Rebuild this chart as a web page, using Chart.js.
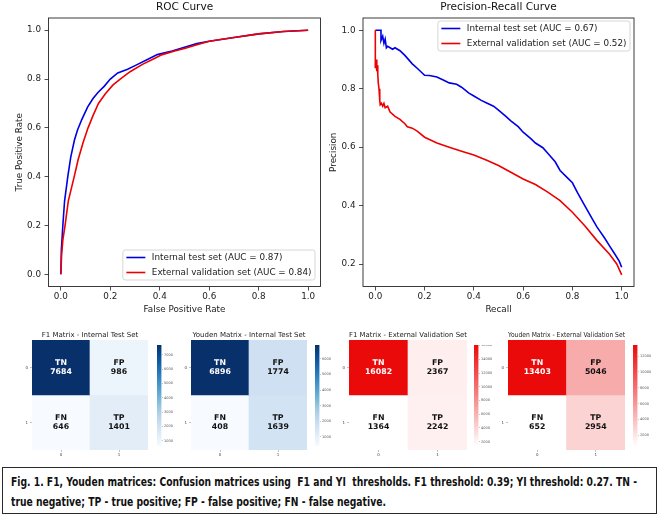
<!DOCTYPE html>
<html>
<head>
<meta charset="utf-8">
<script src="https://cdn.jsdelivr.net/npm/chart.js@4.4.0/dist/chart.umd.min.js"></script>
<style>
  html, body { margin: 0; padding: 0; background: #fff; }
  #page { position: relative; width: 662px; height: 517px; overflow: hidden; background: #fff; }
  canvas { position: absolute; }
  #caption {
    position: absolute; left: 2px; top: 467px; width: 653px; height: 45px;
    border: 1.5px solid #2a2a2a;
    font-family: 'Liberation Sans Narrow', 'DejaVu Sans Condensed', sans-serif;
    font-weight: bold; font-size: 13px; color: #111;
  }
  .cap-line { position: absolute; left: 8px; white-space: pre; transform-origin: 0 0; }
</style>
</head>
<body>
<div id="page">
  <canvas id="roc" width="331" height="320" style="left:0;top:0"></canvas>
  <canvas id="pr" width="340" height="320" style="left:322px;top:0"></canvas>
  <div id="caption">
    <div class="cap-line" id="cap1" style="top:6px">Fig. 1. F1, Youden matrices: Confusion matrices using  F1 and YI  thresholds. F1 threshold: 0.39; YI threshold: 0.27. TN -</div>
    <div class="cap-line" id="cap2" style="top:25.5px">true negative; TP - true positive; FP - false positive; FN - false negative.</div>
  </div>
</div>
<script>
// ROC curve points
const rocFprInternal = [0, 0.002, 0.008, 0.015, 0.028, 0.04, 0.055, 0.067, 0.085, 0.108, 0.13, 0.15, 0.175, 0.2, 0.23, 0.27, 0.3, 0.35, 0.39, 0.45, 0.5, 0.55, 0.6, 0.7, 0.8, 0.9, 1.0];
const rocTprInternal = [0, 0.1, 0.2, 0.3, 0.4, 0.48, 0.55, 0.59, 0.635, 0.685, 0.72, 0.745, 0.77, 0.8, 0.825, 0.84, 0.855, 0.88, 0.9, 0.915, 0.93, 0.945, 0.955, 0.97, 0.985, 0.995, 1.0];
const rocFprExternal = [0, 0.003, 0.008, 0.017, 0.03, 0.054, 0.07, 0.09, 0.11, 0.13, 0.152, 0.18, 0.21, 0.24, 0.28, 0.33, 0.37, 0.41, 0.46, 0.5, 0.55, 0.6, 0.7, 0.8, 0.9, 1.0];
const rocTprExternal = [0, 0.08, 0.14, 0.2, 0.3, 0.4, 0.47, 0.54, 0.6, 0.65, 0.7, 0.74, 0.775, 0.8, 0.83, 0.86, 0.88, 0.9, 0.915, 0.925, 0.94, 0.955, 0.97, 0.985, 0.995, 1.0];

// Precision-recall points
const prRecallInternal = [0, 0.023, 0.023, 0.03, 0.035, 0.04, 0.045, 0.05, 0.06, 0.07, 0.08, 0.1, 0.12, 0.15, 0.17, 0.2, 0.22, 0.25, 0.28, 0.3, 0.33, 0.35, 0.38, 0.4, 0.43, 0.45, 0.48, 0.5, 0.53, 0.55, 0.58, 0.6, 0.63, 0.65, 0.68, 0.7, 0.73, 0.75, 0.78, 0.8, 0.82, 0.85, 0.88, 0.9, 0.93, 0.95, 0.97, 0.99, 1.0];
const prPrecisionInternal = [1.0, 1.0, 0.965, 0.98, 0.955, 0.97, 0.94, 0.945, 0.94, 0.935, 0.94, 0.93, 0.914, 0.885, 0.87, 0.846, 0.845, 0.84, 0.828, 0.82, 0.815, 0.805, 0.785, 0.775, 0.76, 0.752, 0.74, 0.727, 0.705, 0.69, 0.67, 0.651, 0.63, 0.614, 0.598, 0.579, 0.55, 0.52, 0.495, 0.478, 0.445, 0.4, 0.355, 0.326, 0.29, 0.263, 0.237, 0.21, 0.189];
const prRecallExternal = [0, 0, 0.003, 0.006, 0.008, 0.01, 0.012, 0.015, 0.018, 0.02, 0.025, 0.03, 0.035, 0.04, 0.05, 0.06, 0.08, 0.1, 0.12, 0.13, 0.15, 0.17, 0.2, 0.25, 0.3, 0.35, 0.4, 0.45, 0.5, 0.55, 0.6, 0.65, 0.7, 0.75, 0.8, 0.85, 0.9, 0.95, 0.98, 1.0];
const prPrecisionExternal = [1.0, 0.87, 0.9, 0.86, 0.88, 0.85, 0.82, 0.8, 0.76, 0.745, 0.75, 0.74, 0.75, 0.735, 0.74, 0.72, 0.705, 0.695, 0.68, 0.67, 0.665, 0.655, 0.634, 0.614, 0.6, 0.586, 0.573, 0.556, 0.537, 0.514, 0.491, 0.472, 0.446, 0.417, 0.377, 0.331, 0.28, 0.234, 0.2, 0.163];

const rocTicks = [0, 0.2, 0.4, 0.6, 0.8, 1.0];
const prYTicks = [0.2, 0.4, 0.6, 0.8, 1.0];

// Confusion matrices: rows = true label, cols = predicted label
const matrixLabels = ['0', '1'];
const cellNames = [['TN', 'FP'], ['FN', 'TP']];
const f1Internal = [[7684, 986], [646, 1401]];
const youdenInternal = [[6896, 1774], [408, 1639]];
const f1External = [[16082, 2367], [1364, 2242]];
const youdenExternal = [[13403, 5046], [652, 2954]];
const cbTicksF1Int = [1000, 2000, 3000, 4000, 5000, 6000, 7000];
const cbTicksYdInt = [1000, 2000, 3000, 4000, 5000, 6000];
const cbTicksF1Ext = [2000, 4000, 6000, 8000, 10000, 12000, 14000, 16000];
const cbTicksYdExt = [2000, 4000, 6000, 8000, 10000, 12000];

const FONT = "'DejaVu Sans', sans-serif";
const blues = [[247,251,255],[222,235,247],[198,219,239],[158,202,225],[107,174,214],[66,146,198],[33,113,181],[8,81,156],[8,48,107]];
const reds = [[255,255,255],[235,10,10]];

function cmapColor(stops, t) {
    t = Math.min(1, Math.max(0, t));
    const s = t * (stops.length - 1);
    const i = Math.min(Math.floor(s), stops.length - 2);
    const f = s - i;
    const c = stops[i].map((v, k) => Math.round(v + (stops[i + 1][k] - v) * f));
    return `rgb(${c[0]},${c[1]},${c[2]})`;
}

// box round the plot area (matplotlib spines)
const frame = {
    id: 'frame',
    afterDatasetsDraw(chart) {
        const a = chart.chartArea, c = chart.ctx;
        c.save();
        c.strokeStyle = '#262626';
        c.lineWidth = 0.9;
        c.strokeRect(a.left, a.top, a.right - a.left, a.bottom - a.top);
        c.restore();
    }
};

// matplotlib-like legend box inside the axes
const boxLegend = {
    id: 'boxLegend',
    afterDraw(chart, args, opts) {
        const a = chart.chartArea, c = chart.ctx;
        const sets = chart.data.datasets;
        c.save();
        c.font = '8.8px ' + FONT;
        const textW = Math.max(...sets.map(d => c.measureText(d.label).width));
        const pad = 3.5, sample = 19, gap = 6.5, rowH = 15, padY = 7.5;
        const w = pad + sample + gap + textW + pad;
        const h = padY * 2 + rowH * (sets.length - 1);
        const x = a.right - opts.right - w;
        const y = opts.corner === 'lower' ? a.bottom - opts.offset - h : a.top + opts.offset;
        c.beginPath();
        c.roundRect(x, y, w, h, 2.5);
        c.fillStyle = 'rgba(255,255,255,0.85)';
        c.fill();
        c.strokeStyle = '#cccccc';
        c.lineWidth = 0.8;
        c.stroke();
        sets.forEach((d, i) => {
            const cy = y + padY + i * rowH;
            c.beginPath();
            c.strokeStyle = d.borderColor;
            c.lineWidth = d.borderWidth;
            c.moveTo(x + pad, cy);
            c.lineTo(x + pad + sample, cy);
            c.stroke();
            c.fillStyle = '#1a1a1a';
            c.textBaseline = 'middle';
            c.fillText(d.label, x + pad + sample + gap, cy);
        });
        c.restore();
    }
};

function axis(o) {
    return {
        type: 'linear', min: o.min, max: o.max,
        afterBuildTicks: s => { s.ticks = o.ticks.map(v => ({ value: v })); },
        afterFit: s => {
            if (o.width) s.width = o.width;
            if (o.height) s.height = o.height;
            s.paddingTop = s.paddingBottom = s.paddingLeft = s.paddingRight = 0;
        },
        grid: { drawOnChartArea: false, color: '#222', lineWidth: 0.8, tickLength: 4 },
        border: { display: false },
        ticks: { color: '#222', padding: o.pad, maxRotation: 0, font: { family: FONT, size: 8.8 }, callback: v => v.toFixed(1) },
        title: { display: true, text: o.title, color: '#222', font: { family: FONT, size: 8.8 }, padding: o.titlePad }
    };
}

function curveSet(label, xs, ys, color, order) {
    return {
        label: label,
        data: xs.map((x, i) => ({ x: x, y: ys[i] })),
        borderColor: color, borderWidth: 1.6,
        pointRadius: 0, tension: 0, fill: false, order: order
    };
}

function curveOptions(title, padRight, xAxis, yAxis, legendOpts) {
    return {
        responsive: false, animation: false, events: [],
        layout: { padding: { left: 0, right: padRight, top: 0, bottom: 0 } },
        plugins: {
            legend: { display: false },
            tooltip: { enabled: false },
            title: { display: true, text: title, fullSize: false, color: '#111', font: { family: FONT, size: 10.5, weight: 'normal' }, padding: { top: 1, bottom: 4.4 } },
            boxLegend: legendOpts
        },
        scales: { x: xAxis, y: yAxis }
    };
}

new Chart(document.getElementById('roc'), {
    type: 'line',
    data: {
        datasets: [
            curveSet('Internal test set (AUC = 0.87)', rocFprInternal, rocTprInternal, '#0000e6', 1),
            curveSet('External validation set (AUC = 0.84)', rocFprExternal, rocTprExternal, '#ee0000', 0)
        ]
    },
    options: curveOptions('ROC Curve', 10.5,
        axis({ min: -0.05, max: 1.05, ticks: rocTicks, height: 33.5, pad: 1, title: 'False Positive Rate', titlePad: { top: 0, bottom: 4.7 } }),
        axis({ min: -0.05, max: 1.05, ticks: rocTicks, width: 48.5, pad: 3.5, title: 'True Positive Rate', titlePad: { top: 14.5, bottom: 0 } }),
        { corner: 'lower', right: 5.5, offset: 6.5 }),
    plugins: [frame, boxLegend]
});

new Chart(document.getElementById('pr'), {
    type: 'line',
    data: {
        datasets: [
            curveSet('Internal test set (AUC = 0.67)', prRecallInternal, prPrecisionInternal, '#0000e6', 1),
            curveSet('External validation set (AUC = 0.52)', prRecallExternal, prPrecisionExternal, '#ee0000', 0)
        ]
    },
    options: curveOptions('Precision-Recall Curve', 28,
        axis({ min: -0.05, max: 1.05, ticks: rocTicks, height: 33.5, pad: 1, title: 'Recall', titlePad: { top: 0, bottom: 4.7 } }),
        axis({ min: 0.123, max: 1.042, ticks: prYTicks, width: 41, pad: 3.5, title: 'Precision', titlePad: { top: 6.7, bottom: 0 } }),
        { corner: 'upper', right: 4, offset: 3 }),
    plugins: [frame, boxLegend]
});

// ---- confusion matrices ----
function addCanvas(left, top, w, h) {
    const cv = document.createElement('canvas');
    cv.width = w; cv.height = h;
    cv.style.left = left + 'px';
    cv.style.top = top + 'px';
    document.getElementById('page').appendChild(cv);
    return cv;
}

const cellText = {
    id: 'cellText',
    afterDatasetsDraw(chart) {
        const c = chart.ctx;
        c.save();
        c.textAlign = 'center';
        c.textBaseline = 'middle';
        c.font = 'bold 7.8px ' + FONT;
        chart.data.datasets.forEach((ds, di) => {
            chart.getDatasetMeta(di).data.forEach((el, i) => {
                const cy = (el.y + el.base) / 2;
                c.fillStyle = ds.textColors[i];
                c.fillText(ds.names[i], el.x, cy - 4.7);
                c.fillText(String(ds.counts[i]), el.x, cy + 4.7);
            });
        });
        c.restore();
    }
};

const smallTickGrid = { drawOnChartArea: false, color: '#999', lineWidth: 0.6, tickLength: 2, offset: false };
const smallTickFont = { family: FONT, size: 4 };

function heatmap(title, matrix, stops, box, barLeft, cbTicks) {
    const flat = matrix.flat();
    const vmin = Math.min(...flat), vmax = Math.max(...flat);
    const yW = 10, xH = 12, titleH = 15, padR = 1;
    const cv = addCanvas(box.left - yW, box.top - titleH, box.right - box.left + yW + padR, box.bottom - box.top + titleH + xH);
    new Chart(cv, {
        type: 'bar',
        data: {
            labels: matrixLabels,
            datasets: matrix.map((row, r) => {
                const ts = row.map(v => (v - vmin) / (vmax - vmin));
                return {
                    data: row.map(() => [r, r + 1]),
                    counts: row,
                    names: cellNames[r],
                    textColors: ts.map(t => t > 0.55 ? '#ffffff' : '#111111'),
                    backgroundColor: ts.map(t => cmapColor(stops, t)),
                    borderWidth: 0, barPercentage: 1, categoryPercentage: 1, grouped: false
                };
            })
        },
        options: {
            responsive: false, animation: false, events: [],
            layout: { padding: { right: padR } },
            plugins: {
                legend: { display: false },
                tooltip: { enabled: false },
                title: { display: true, text: title, fullSize: false, color: '#222', font: { family: FONT, size: 7, weight: 'normal' }, padding: { top: 5.8, bottom: 0.8 } }
            },
            scales: {
                x: {
                    offset: true, grid: smallTickGrid, border: { display: false },
                    ticks: { padding: 0.6, font: smallTickFont, color: '#444', maxRotation: 0 },
                    afterFit: s => { s.height = xH; s.paddingLeft = s.paddingRight = 0; }
                },
                y: {
                    type: 'linear', min: 0, max: 2, reverse: true,
                    afterBuildTicks: s => { s.ticks = matrixLabels.map((l, i) => ({ value: i + 0.5 })); },
                    grid: smallTickGrid, border: { display: false },
                    ticks: { padding: 2, font: smallTickFont, color: '#444', callback: v => matrixLabels[Math.floor(v)] },
                    afterFit: s => { s.width = yW; s.paddingTop = s.paddingBottom = 0; }
                }
            }
        },
        plugins: [cellText]
    });

    // colour bar
    const cbTop = 345, cbH = 101, cbW = 4.5, labW = 16;
    const cb = addCanvas(barLeft, cbTop, Math.ceil(cbW + labW), cbH);
    new Chart(cb, {
        type: 'bar',
        data: {
            labels: [''],
            datasets: [{
                data: [[vmin, vmax]],
                backgroundColor: ctx => {
                    const a = ctx.chart.chartArea;
                    if (!a) return 'rgba(0,0,0,0)';
                    const g = ctx.chart.ctx.createLinearGradient(0, a.bottom, 0, a.top);
                    stops.forEach((s, i) => g.addColorStop(i / (stops.length - 1), `rgb(${s[0]},${s[1]},${s[2]})`));
                    return g;
                },
                borderWidth: 0, barPercentage: 1, categoryPercentage: 1
            }]
        },
        options: {
            responsive: false, animation: false, events: [],
            layout: { padding: { right: Math.ceil(cbW + labW) - cbW - labW } },
            plugins: { legend: { display: false }, tooltip: { enabled: false } },
            scales: {
                x: { display: false },
                y: {
                    position: 'right', min: vmin, max: vmax,
                    afterBuildTicks: s => { s.ticks = cbTicks.map(v => ({ value: v })); },
                    grid: { drawOnChartArea: false, color: '#888', lineWidth: 0.5, tickLength: 1.5 },
                    border: { display: false },
                    ticks: { padding: 1, font: { family: FONT, size: 3.5 }, color: '#555', callback: v => String(v) },
                    afterFit: s => { s.width = labW; s.paddingTop = s.paddingBottom = 0; }
                }
            }
        }
    });
}

heatmap('F1 Matrix - Internal Test Set', f1Internal, blues, { left: 32, right: 148, top: 340, bottom: 450 }, 157, cbTicksF1Int);
heatmap('Youden Matrix - Internal Test Set', youdenInternal, blues, { left: 191, right: 307, top: 340, bottom: 450 }, 315, cbTicksYdInt);
heatmap('F1 Matrix - External Validation Set', f1External, reds, { left: 349, right: 467, top: 340, bottom: 450 }, 474, cbTicksF1Ext);
heatmap('Youden Matrix - External Validation Set', youdenExternal, reds, { left: 508, right: 625, top: 340, bottom: 450 }, 633, cbTicksYdExt);

// fit the caption lines to the width they take in the figure
const cap1 = document.getElementById('cap1'), cap2 = document.getElementById('cap2');
const k = 626 / cap1.getBoundingClientRect().width;
cap1.style.transform = `scaleX(${k})`;
cap2.style.transform = `scaleX(${k})`;
</script>
</body>
</html>
